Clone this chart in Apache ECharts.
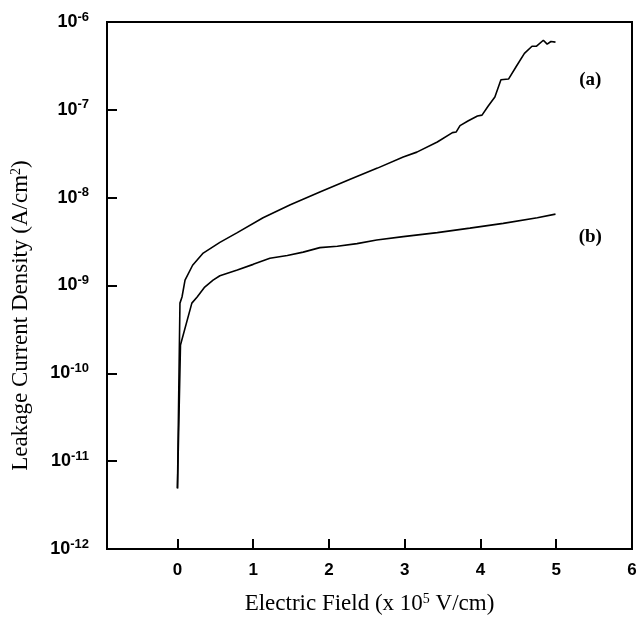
<!DOCTYPE html>
<html>
<head>
<meta charset="utf-8">
<script src="https://cdn.jsdelivr.net/npm/echarts@6/dist/echarts.min.js"></script>
<style>html,body{margin:0;padding:0;background:#fff;}#c{width:639px;height:618px;}</style>
</head>
<body>
<div id="c"></div>
<script>
// Curve (a)
const xA = [0, 0.033, 0.06, 0.10, 0.20, 0.34, 0.56, 0.79, 1.13, 1.49, 1.88, 2.28, 2.64, 2.98, 3.16, 3.43, 3.63, 3.68, 3.73, 3.84, 3.96, 4.02, 4.10, 4.19, 4.27, 4.37, 4.48, 4.58, 4.68, 4.74, 4.83, 4.88, 4.93, 4.99];
const yA = [4.9e-12, 6.3e-10, 7.4e-10, 1.15e-9, 1.7e-9, 2.34e-9, 3.1e-9, 4.0e-9, 5.9e-9, 8.3e-9, 1.16e-8, 1.62e-8, 2.17e-8, 2.9e-8, 3.3e-8, 4.3e-8, 5.5e-8, 5.6e-8, 6.6e-8, 7.5e-8, 8.5e-8, 8.7e-8, 1.1e-7, 1.4e-7, 2.2e-7, 2.24e-7, 3.2e-7, 4.4e-7, 5.3e-7, 5.3e-7, 6.2e-7, 5.6e-7, 6.0e-7, 5.9e-7];
// Curve (b)
const xB = [0, 0.04, 0.19, 0.26, 0.36, 0.47, 0.56, 0.79, 1.00, 1.22, 1.45, 1.66, 1.88, 2.11, 2.37, 2.63, 2.98, 3.43, 3.86, 4.30, 4.75, 4.99];
const yB = [4.9e-12, 2.1e-10, 6.3e-10, 7.4e-10, 9.6e-10, 1.15e-9, 1.29e-9, 1.5e-9, 1.74e-9, 2.04e-9, 2.2e-9, 2.4e-9, 2.7e-9, 2.8e-9, 3.0e-9, 3.3e-9, 3.6e-9, 4.0e-9, 4.5e-9, 5.1e-9, 5.9e-9, 6.5e-9];
const xTicks = [0, 1, 2, 3, 4, 5, 6];
const yTicks = [1e-11, 1e-10, 1e-9, 1e-8, 1e-7];
const seriesLabels = ['(a)', '(b)'];
const labelPos = [[5.45, 2.2e-7], [5.45, 3.6e-9]];

const X_MIN = -0.93, X_MAX = 6;
const chart = echarts.init(document.getElementById('c'), null, {renderer: 'canvas'});
const pair = (xs, ys) => xs.map((x, i) => [x, ys[i]]);
const serif = 'Liberation Serif, Times New Roman, serif';
const sans = 'Liberation Sans, Arial, sans-serif';
const tickLen = 0.13; // in x units (~10px)

chart.setOption({
  animation: false,
  backgroundColor: '#fff',
  grid: {left: 107, right: 7, top: 22, bottom: 69, show: true, borderColor: '#000', borderWidth: 2, backgroundColor: 'transparent', containLabel: false, outerBoundsMode: 'none'},
  xAxis: {
    type: 'value', min: X_MIN, max: X_MAX,
    axisLine: {show: true, onZero: false, lineStyle: {color: '#000', width: 2}},
    axisTick: {show: true, inside: true, length: 10, customValues: xTicks, lineStyle: {color: '#000', width: 2}},
    axisLabel: {customValues: xTicks, margin: 13, color: '#000', fontFamily: sans, fontWeight: 'bold', fontSize: 17},
    splitLine: {show: false},
    name: '{t|Electric Field (x 10}{s|5}{t| V/cm)}',
    nameLocation: 'middle', nameGap: 43,
    nameTextStyle: {rich: {
      t: {fontFamily: serif, fontSize: 23, color: '#000'},
      s: {fontFamily: serif, fontSize: 14, color: '#000', verticalAlign: 'top', padding: [0, 0, 10, 0]}
    }}
  },
  yAxis: {
    type: 'log', logBase: 10, min: 1e-12, max: 1e-6,
    axisLine: {show: true, onZero: false, lineStyle: {color: '#000', width: 2}},
    axisTick: {show: true, inside: true, length: 10, lineStyle: {color: '#000', width: 2}},
    minorTick: {show: false},
    splitLine: {show: false},
    axisLabel: {
      margin: 18, color: '#000',
      formatter: v => '{b|10}{s|' + Math.round(Math.log10(v)) + '}',
      rich: {
        b: {fontFamily: sans, fontWeight: 'bold', fontSize: 18, color: '#000'},
        s: {fontFamily: sans, fontWeight: 'bold', fontSize: 13, color: '#000', verticalAlign: 'top', padding: [0, 0, 10, 0]}
      }
    },
    name: '{t|Leakage Current Density (A/cm}{s|2}{t|)}',
    nameLocation: 'middle', nameGap: 74, nameRotate: 90,
    nameTextStyle: {padding: [0, 60, 0, 0], rich: {
      t: {fontFamily: serif, fontSize: 23, color: '#000'},
      s: {fontFamily: serif, fontSize: 14, color: '#000', verticalAlign: 'top', padding: [0, 0, 10, 0]}
    }}
  },
  series: [
    {type: 'line', data: pair(xA, yA), showSymbol: false, symbol: 'none', lineStyle: {color: '#000', width: 1.6}, z: 3,
     markPoint: {symbol: 'circle', symbolSize: 0, label: {show: true, formatter: seriesLabels[0], fontFamily: serif, fontWeight: 'bold', fontSize: 19, color: '#000'},
       data: [{coord: labelPos[0]}]}},
    {type: 'line', data: pair(xB, yB), showSymbol: false, symbol: 'none', lineStyle: {color: '#000', width: 1.6}, z: 3,
     markPoint: {symbol: 'circle', symbolSize: 0, label: {show: true, formatter: seriesLabels[1], fontFamily: serif, fontWeight: 'bold', fontSize: 19, color: '#000'},
       data: [{coord: labelPos[1]}]},
     markLine: {symbol: ['none', 'none'], silent: true, animation: false, label: {show: false},
       lineStyle: {color: '#000', width: 2, type: 'solid'},
       data: yTicks.map(v => [{coord: [X_MIN, v]}, {coord: [X_MIN + tickLen, v]}])}}
  ]
});
</script>
</body>
</html>
